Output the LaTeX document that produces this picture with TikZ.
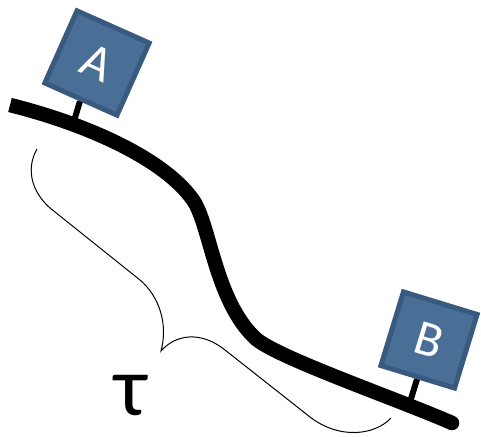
\documentclass[tikz,border=0pt]{standalone}
\usepackage{fontspec}
\setmainfont{Carlito}
\definecolor{boxfill}{HTML}{4A6F97}
\definecolor{boxedge}{HTML}{385A7F}
\tikzset{
  cart/.style={draw=boxedge, fill=boxfill, line width=5pt, minimum size=79pt,
    inner sep=0pt, text=white, font=\fontsize{50}{50}\selectfont},
  stem/.style={line width=6pt, black},
  track/.style={line width=14.5pt, black},
  brace/.style={line width=1pt, black},
}
\begin{document}
\begin{tikzpicture}[x=1pt, y=-1pt]
\useasboundingbox (0,0) rectangle (481,436);
% stems
\coordinate (sa) at (74,121);
\coordinate (sb) at (410,402);
% boxes
\node[cart, rotate=-24] (A) at (97,63) {A};
\node[cart, rotate=-17, minimum size=77pt] (B) at (429,340) {B};
\draw[stem] (A.south) -- (sa);
\draw[stem] (B.south) -- (sb);
% track
\draw[track, line cap=butt] (10,105) .. controls (90,125) and (165,160) .. (193,200)
  .. controls (210,224) and (215,300) .. (255,338)
  .. controls (275,357) and (400,400) .. (452,423);
\fill (452,423) circle (7.25pt);
% brace
\draw[brace] (37,149) .. controls (25,170) and (32,195) .. (55,212)
  -- (140,280) .. controls (160,297) and (168,325) .. (161,351)
  .. controls (175,335) and (200,330) .. (225,350)
  -- (310,417) .. controls (340,440) and (375,435) .. (391,418);
\node[font=\fontsize{85}{85}\selectfont, inner sep=0pt] (tau) at (131,396) {τ};
\end{tikzpicture}
\end{document}
